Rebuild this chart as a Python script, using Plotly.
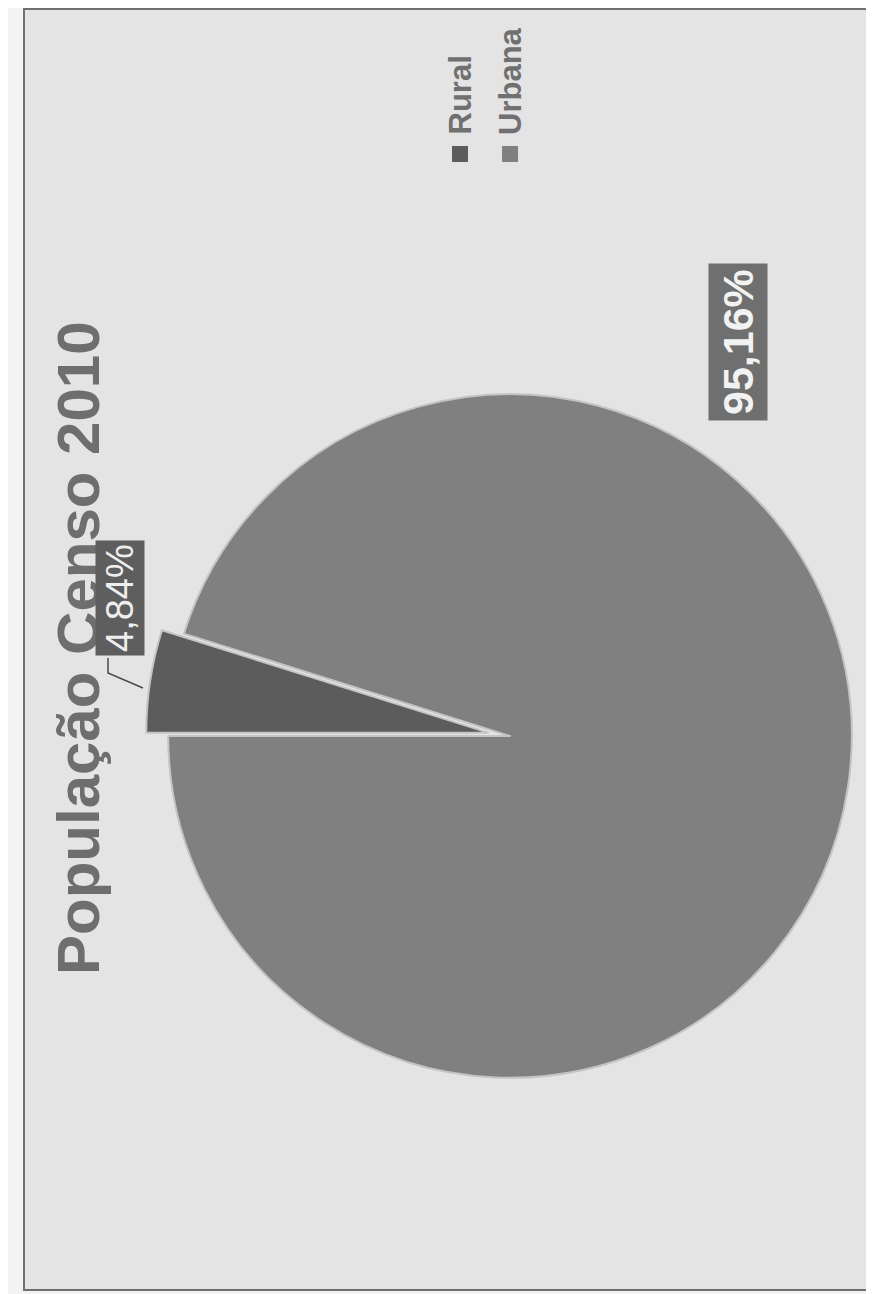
import plotly.graph_objects as go

# ---- data ----
categories = ["Rural", "Urbana"]
values = [4.84, 95.16]
colors = ["#5c5c5c", "#808080"]
title_text = "População Censo 2010"

# page body adds an 8px offset; work in target-image pixels
OFF = 8
W, H = 874 - OFF, 1294 - OFF


def px(x):
    return (x - OFF) / W


def py(y):
    return 1 - (y - OFF) / H


def fmt(v):
    return f"{v:.2f}".replace(".", ",") + "%"


# pie geometry (image pixel centre)
cx, cy = 510, 736
half = 874 - cx
pull = 0.065

fig = go.Figure()
fig.add_trace(go.Pie(
    labels=categories,
    values=values,
    sort=False,
    direction="clockwise",
    rotation=270,
    pull=[pull, 0],
    marker=dict(colors=colors, line=dict(color="#c4c4c4", width=2)),
    textinfo="none",
    hoverinfo="label+percent",
    showlegend=False,
    domain=dict(x=[px(cx - half), 1], y=[py(cy + half), py(cy - half)]),
))

shapes = [
    # chart area
    dict(type="rect", xref="paper", yref="paper",
         x0=px(24), x1=px(868), y0=py(1290), y1=py(9),
         fillcolor="#e4e4e4", line=dict(color="#707070", width=2), layer="below"),
    # leader line for small slice
    dict(type="path", xref="paper", yref="paper",
         path=f"M {px(108)} {py(658)} L {px(108)} {py(673)} L {px(143)} {py(688)}",
         line=dict(color="#4a4a4a", width=1.5)),
]

annotations = [
    dict(text=title_text, x=px(78), y=py(648), xref="paper", yref="paper",
         textangle=-90, showarrow=False, xanchor="center", yanchor="middle",
         font=dict(family="Liberation Sans", size=60, color="#6e6e6e", weight="bold")),
    dict(text=fmt(values[1]), x=px(738), y=py(342), xref="paper", yref="paper",
         textangle=-90, showarrow=False, xanchor="center", yanchor="middle",
         bgcolor="#6f6f6f", borderpad=5,
         font=dict(family="Liberation Sans", size=43, color="#f2f2f2", weight="bold")),
    dict(text=fmt(values[0]), x=px(120), y=py(598), xref="paper", yref="paper",
         textangle=-90, showarrow=False, xanchor="center", yanchor="middle",
         bgcolor="#5e5e5e", borderpad=3,
         font=dict(family="Liberation Sans", size=38, color="#eeeeee")),
]

# legend built from categories
leg_x = [460, 510]
for name, col, lx in zip(categories, colors, leg_x):
    annotations.append(dict(
        text=name, x=px(lx), y=py(137), xref="paper", yref="paper",
        textangle=-90, showarrow=False, xanchor="center", yanchor="bottom",
        font=dict(family="Liberation Sans", size=31, color="#707070", weight="bold")))
    shapes.append(dict(type="rect", xref="paper", yref="paper",
                       x0=px(lx - 8), x1=px(lx + 8), y0=py(162), y1=py(146),
                       fillcolor=col, line=dict(width=0)))

fig.update_layout(
    width=W, height=H,
    margin=dict(l=0, r=0, t=0, b=0),
    paper_bgcolor="#f3f3f3",
    plot_bgcolor="#f3f3f3",
    shapes=shapes,
    annotations=annotations,
    showlegend=False,
)

fig.write_html("out.html")
